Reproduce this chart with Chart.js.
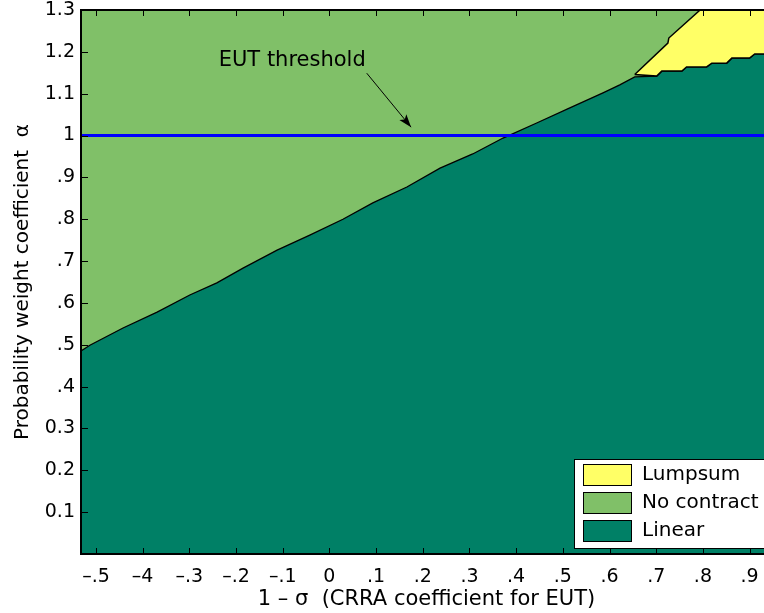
<!DOCTYPE html>
<html lang="en">
  <head>
    <meta charset="UTF-8" />
    <title>Contract regions</title>
    <script src="https://cdn.jsdelivr.net/npm/chart.js@4"></script>
    <style>
      html,
      body {
        margin: 0;
        padding: 0;
        overflow: hidden;
        background: #fff;
      }
      #regionChart {
        display: block;
      }
    </style>
  </head>
  <body>
    <canvas id="regionChart" width="772" height="613"></canvas>

    <script>
      // axis ranges: x = 1 - sigma, y = probability weight coefficient alpha
      const xMin = -0.532;
      const xMax = 0.948;
      const yMin = 0;
      const yMax = 1.3;

      const xTickValues = [-0.5, -0.4, -0.3, -0.2, -0.1, 0, 0.1, 0.2, 0.3, 0.4, 0.5, 0.6, 0.7, 0.8, 0.9];
      const xTickLabels = ["–.5", "–4", "–.3", "–.2", "–.1", "0", ".1", ".2", ".3", ".4", ".5", ".6", ".7", ".8", ".9"];
      const yTickValues = [0.1, 0.2, 0.3, 0.4, 0.5, 0.6, 0.7, 0.8, 0.9, 1, 1.1, 1.2, 1.3];
      const yTickLabels = ["0.1", "0.2", "0.3", ".4", ".5", ".6", ".7", ".8", ".9", "1", "1.1", "1.2", "1.3"];

      // upper edge of the Linear region
      const linearX = [-0.532, -0.513, -0.442, -0.369, -0.299, -0.241, -0.185, -0.112, -0.042, 0.029, 0.093, 0.166, 0.237, 0.307, 0.372, 0.444, 0.515, 0.586, 0.622, 0.654, 0.701, 0.712, 0.755, 0.765, 0.808, 0.819, 0.851, 0.862, 0.9, 0.911, 0.948];
      const linearY = [0.485, 0.499, 0.54, 0.578, 0.619, 0.648, 0.683, 0.726, 0.762, 0.8, 0.839, 0.877, 0.922, 0.956, 0.994, 1.03, 1.066, 1.102, 1.121, 1.14, 1.142, 1.154, 1.154, 1.164, 1.164, 1.173, 1.173, 1.185, 1.185, 1.195, 1.195];

      // outline of the Lumpsum region: upper edge left to right, then lower edge back
      const lumpsumX = [0.654, 0.725, 0.727, 0.794, 0.948, 0.948, 0.911, 0.9, 0.862, 0.851, 0.819, 0.808, 0.765, 0.755, 0.712, 0.701, 0.654];
      const lumpsumY = [1.146, 1.221, 1.233, 1.3, 1.3, 1.195, 1.195, 1.185, 1.185, 1.173, 1.173, 1.164, 1.164, 1.154, 1.154, 1.142, 1.146];

      const eutAlpha = 1;

      const regionLabels = ["Lumpsum", "No contract", "Linear"];
      const regionColors = ["#ffff66", "#80c068", "#008066"];

      // "EUT threshold" note and its arrow, in data units
      const noteText = "EUT threshold";
      const noteX = -0.237;
      const noteY = 1.18;
      const arrowFrom = { x: 0.08, y: 1.149 };
      const arrowTo = { x: 0.175, y: 1.02 };

      const fontFamily = "'DejaVu Sans', 'Liberation Sans', sans-serif";

      const toPoints = (xs, ys) => xs.map((v, i) => ({ x: v, y: ys[i] }));

      // box around the plot with inward tick marks
      const frameAndTicks = {
        id: "frameAndTicks",
        afterDatasetsDraw(chart) {
          const { ctx, chartArea: a, scales } = chart;
          ctx.save();
          ctx.strokeStyle = "#000";
          ctx.lineWidth = 1;
          ctx.beginPath();
          xTickValues.forEach((v) => {
            const px = Math.round(scales.x.getPixelForValue(v)) + 0.5;
            ctx.moveTo(px, a.bottom);
            ctx.lineTo(px, a.bottom - 6);
            ctx.moveTo(px, a.top);
            ctx.lineTo(px, a.top + 6);
          });
          yTickValues.forEach((v) => {
            const py = Math.round(scales.y.getPixelForValue(v)) + 0.5;
            ctx.moveTo(a.left, py);
            ctx.lineTo(a.left + 7, py);
            ctx.moveTo(a.right, py);
            ctx.lineTo(a.right - 7, py);
          });
          ctx.stroke();
          ctx.lineWidth = 2;
          ctx.strokeRect(a.left, a.top, a.right - a.left, a.bottom - a.top);
          ctx.restore();
        },
      };

      // legend box in the lower right corner and the threshold note
      const legendAndNote = {
        id: "legendAndNote",
        afterDraw(chart) {
          const { ctx, chartArea: a, scales } = chart;
          ctx.save();

          const left = a.right - 198;
          const top = a.bottom - 95;
          ctx.fillStyle = "#fff";
          ctx.fillRect(left, top, 220, 89);
          ctx.strokeStyle = "#000";
          ctx.lineWidth = 1;
          ctx.strokeRect(left + 0.5, top + 0.5, 220, 89);

          ctx.font = "20px " + fontFamily;
          ctx.textBaseline = "middle";
          regionLabels.forEach((label, i) => {
            const sy = top + 5 + i * 28;
            ctx.fillStyle = regionColors[i];
            ctx.fillRect(left + 9, sy, 48, 21);
            ctx.strokeRect(left + 9.5, sy + 0.5, 48, 21);
            ctx.fillStyle = "#000";
            ctx.fillText(label, left + 68, sy + 11);
          });

          ctx.font = "21px " + fontFamily;
          ctx.fillStyle = "#000";
          ctx.fillText(noteText, scales.x.getPixelForValue(noteX), scales.y.getPixelForValue(noteY));

          const x0 = scales.x.getPixelForValue(arrowFrom.x);
          const y0 = scales.y.getPixelForValue(arrowFrom.y);
          const x1 = scales.x.getPixelForValue(arrowTo.x);
          const y1 = scales.y.getPixelForValue(arrowTo.y);
          const ang = Math.atan2(y1 - y0, x1 - x0);
          ctx.beginPath();
          ctx.moveTo(x0, y0);
          ctx.lineTo(x1, y1);
          ctx.stroke();
          ctx.beginPath();
          ctx.moveTo(x1, y1);
          ctx.lineTo(x1 - 13 * Math.cos(ang) + 4.5 * Math.sin(ang), y1 - 13 * Math.sin(ang) - 4.5 * Math.cos(ang));
          ctx.lineTo(x1 - 10 * Math.cos(ang), y1 - 10 * Math.sin(ang));
          ctx.lineTo(x1 - 13 * Math.cos(ang) - 4.5 * Math.sin(ang), y1 - 13 * Math.sin(ang) + 4.5 * Math.cos(ang));
          ctx.closePath();
          ctx.fill();

          ctx.restore();
        },
      };

      const ctxRegions = document.getElementById("regionChart").getContext("2d");
      new Chart(ctxRegions, {
        type: "line",
        data: {
          datasets: [
            {
              label: regionLabels[0],
              data: toPoints(lumpsumX, lumpsumY),
              backgroundColor: regionColors[0],
              borderColor: "#000",
              borderWidth: 1.5,
              fill: "shape",
              order: 2,
            },
            {
              label: regionLabels[1],
              data: toPoints([xMin, xMax], [yMax, yMax]),
              backgroundColor: regionColors[1],
              borderColor: "transparent",
              borderWidth: 1,
              fill: "origin",
              order: 4,
            },
            {
              label: regionLabels[2],
              data: toPoints(linearX, linearY),
              backgroundColor: regionColors[2],
              borderColor: "#000",
              borderWidth: 1.3,
              fill: "origin",
              order: 3,
            },
            {
              label: "EUT threshold",
              data: toPoints([xMin, xMax], [eutAlpha, eutAlpha]),
              borderColor: "#0000ff",
              borderWidth: 3,
              fill: false,
              order: 1,
            },
          ],
        },
        options: {
          responsive: false,
          animation: false,
          layout: { padding: { top: 10, right: 0, bottom: 0, left: 0 } },
          elements: { point: { radius: 0 }, line: { tension: 0 } },
          plugins: { legend: { display: false }, tooltip: { enabled: false } },
          scales: {
            x: {
              type: "linear",
              min: xMin,
              max: xMax,
              grid: { display: false, drawTicks: false },
              border: { display: false },
              afterBuildTicks: (scale) => {
                scale.ticks = xTickValues.map((v) => ({ value: v }));
              },
              afterFit: (scale) => {
                scale.height = 59;
                scale.paddingLeft = 0;
                scale.paddingRight = 0;
              },
              ticks: {
                autoSkip: false,
                maxRotation: 0,
                minRotation: 0,
                padding: 12,
                color: "#000",
                font: { family: fontFamily, size: 19 },
                callback: (value, index) => xTickLabels[index],
              },
              title: {
                display: true,
                text: "1 – σ  (CRRA coefficient for EUT)",
                color: "#000",
                font: { family: fontFamily, size: 21 },
                padding: { top: 0, bottom: 1 },
              },
            },
            y: {
              type: "linear",
              min: yMin,
              max: yMax,
              grid: { display: false, drawTicks: false },
              border: { display: false },
              afterBuildTicks: (scale) => {
                scale.ticks = yTickValues.map((v) => ({ value: v }));
              },
              afterFit: (scale) => {
                scale.width = 81;
                scale.paddingTop = 0;
                scale.paddingBottom = 0;
              },
              ticks: {
                autoSkip: false,
                padding: 6,
                color: "#000",
                font: { family: fontFamily, size: 19 },
                callback: (value, index) => yTickLabels[index],
              },
              title: {
                display: true,
                text: "Probability weight coefficient  α",
                color: "#000",
                font: { family: fontFamily, size: 20 },
                padding: { top: 11, bottom: 0 },
              },
            },
          },
        },
        plugins: [frameAndTicks, legendAndNote],
      });
    </script>
  </body>
</html>
